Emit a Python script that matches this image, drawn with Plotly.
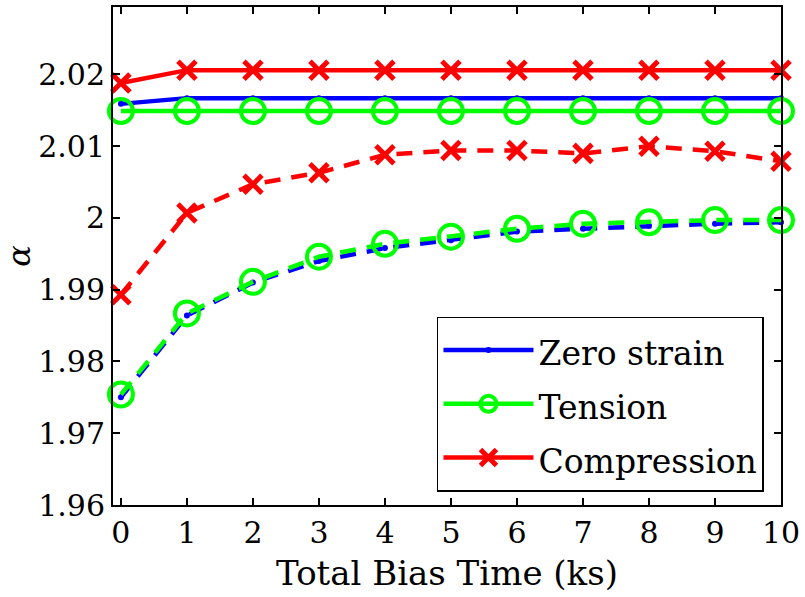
import plotly.graph_objects as go

x = [0, 1, 2, 3, 4, 5, 6, 7, 8, 9, 10]

zero_solid = [2.0159, 2.0167, 2.0167, 2.0167, 2.0167, 2.0167, 2.0167, 2.0167, 2.0167, 2.0167, 2.0167]
tension_solid = [2.0149, 2.0149, 2.0149, 2.0149, 2.0149, 2.0149, 2.0149, 2.0149, 2.0149, 2.0149, 2.0149]
comp_solid = [2.0188, 2.0206, 2.0206, 2.0206, 2.0206, 2.0206, 2.0206, 2.0206, 2.0206, 2.0206, 2.0206]

zero_dash = [1.9750, 1.9864, 1.9910, 1.9940, 1.9958, 1.9969, 1.9981, 1.9985, 1.9989, 1.9992, 1.9994]
tension_dash = [1.9754, 1.9867, 1.9911, 1.9946, 1.9964, 1.9974, 1.9985, 1.9992, 1.9994, 1.9997, 1.9997]
comp_dash = [1.9893, 2.0007, 2.0047, 2.0063, 2.0088, 2.0094, 2.0094, 2.0090, 2.0100, 2.0093, 2.0079]

series_names = ["Zero strain", "Tension", "Compression"]
x_ticks = [0, 1, 2, 3, 4, 5, 6, 7, 8, 9, 10]
y_ticks = [1.96, 1.97, 1.98, 1.99, 2.00, 2.01, 2.02]
y_tick_text = ["1.96", "1.97", "1.98", "1.99", "2", "2.01", "2.02"]

BLUE = "#0000ff"
GREEN = "#00ff00"
RED = "#ff0000"
FONT = "DejaVu Serif"
DASH = "16px,11px"

fig = go.Figure()

def label(name):
    return "<span style='font-size:33px'>" + name + "</span>"

def add(y, color, name, symbol, size, mline, dash, show):
    fig.add_trace(go.Scatter(
        x=x, y=y, mode="lines+markers", name=label(name), showlegend=show,
        cliponaxis=False,
        line=dict(color=color, width=4.5, dash=dash),
        marker=dict(symbol=symbol, size=size, color=color,
                    line=dict(color=color, width=mline)),
    ))

add(zero_solid, BLUE, series_names[0], "circle", 6, 0, "solid", True)
add(tension_solid, GREEN, series_names[1], "circle-open", 24, 4, "solid", True)
add(comp_solid, RED, series_names[2], "x-thin-open", 18, 5, "solid", True)
add(zero_dash, BLUE, series_names[0], "circle", 6, 0, DASH, False)
add(tension_dash, GREEN, series_names[1], "circle-open", 24, 4, DASH, False)
add(comp_dash, RED, series_names[2], "x-thin-open", 18, 5, DASH, False)

axis_common = dict(
    showline=True, linecolor="black", linewidth=2, mirror="ticks",
    ticks="inside", ticklen=7, tickwidth=1.5, tickcolor="black",
    showgrid=False, zeroline=False,
    tickfont=dict(family=FONT, size=30, color="black"),
)

fig.update_xaxes(
    range=[-0.12, 10], tickvals=x_ticks,
    title=dict(text="Total Bias Time (ks)", font=dict(family=FONT, size=34, color="black"), standoff=12),
    **axis_common,
)
fig.update_yaxes(
    range=[1.96, 2.0294], tickvals=y_ticks, ticktext=y_tick_text,
    title=dict(text="<i>α</i>", font=dict(family=FONT, size=32, color="black"), standoff=8),
    **axis_common,
)

fig.update_layout(
    width=805, height=597,
    margin=dict(l=113, r=24, t=5, b=92),
    paper_bgcolor="white", plot_bgcolor="white",
    legend=dict(
        x=0.485, y=0.378, xanchor="left", yanchor="top",
        bgcolor="white", bordercolor="black", borderwidth=1.5,
        font=dict(family=FONT, size=39, color="black"),
        itemwidth=90, tracegroupgap=0,
    ),
)

fig.write_html("out.html")
